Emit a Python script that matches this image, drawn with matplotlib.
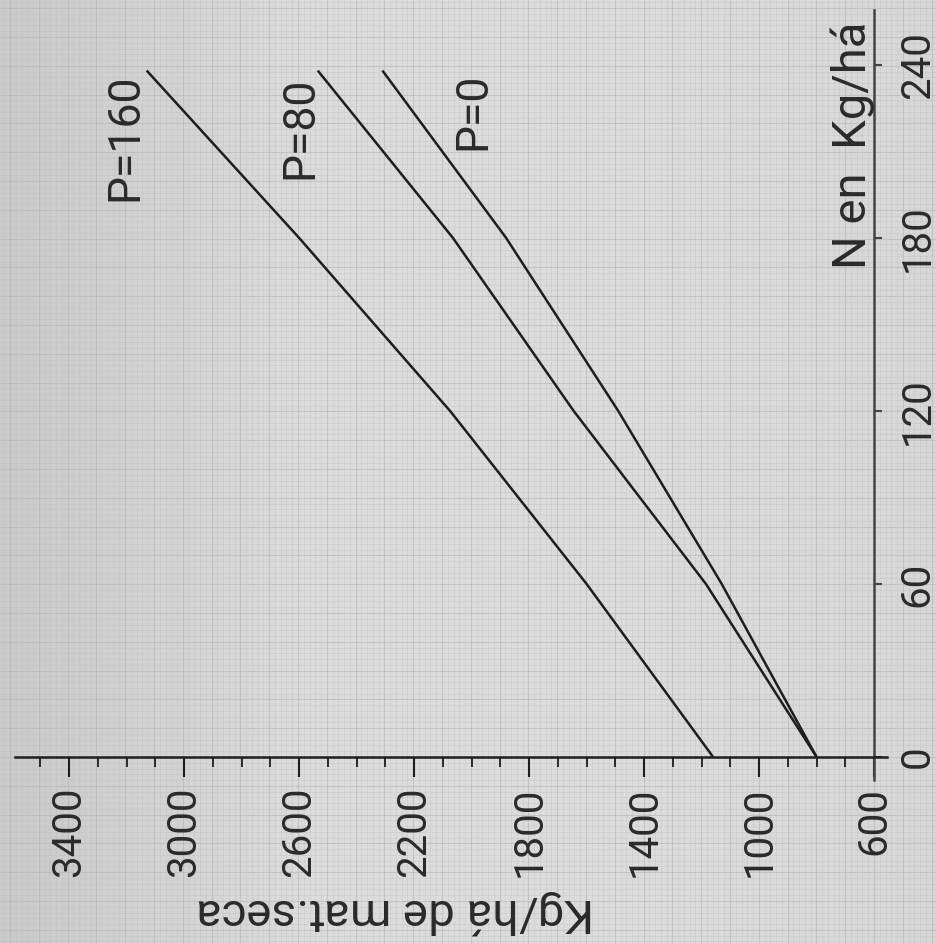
import numpy as np
import matplotlib
matplotlib.use("Agg")
import matplotlib.pyplot as plt
from matplotlib.collections import LineCollection

plt.rcParams['font.family'] = ['Roboto', 'DejaVu Sans']

# ---- data ----
nitrogen = [0, 60, 120, 180, 238]            # N en Kg/há
yield_p0 = [800, 1130, 1490, 1880, 2310]     # Kg/há de mat. seca, P=0
yield_p80 = [800, 1185, 1645, 2065, 2535]    # P=80
yield_p160 = [1160, 1600, 2075, 2600, 3130]  # P=160
series_labels = ['P=0', 'P=80', 'P=160']
kg_major = list(range(600, 3401, 400))
kg_minor = list(range(700, 3501, 100))
n_ticks = [0, 60, 120, 180, 240]

W, H = 937, 943
fig = plt.figure(figsize=(W / 100, H / 100), dpi=100)

# ---- paper background (graph paper look) ----
bg = fig.add_axes([0, 0, 1, 1], zorder=0)
bg.set_xlim(0, W)
bg.set_ylim(H, 0)
bg.axis('off')
xs = np.linspace(0, 1, 256)
tone = 0.79 + 0.07 * np.clip(xs * 3, 0, 1) - 0.02 * np.clip((xs - 0.7) * 3, 0, 1)
grad = np.tile(tone, (16, 1))
bg.imshow(grad, cmap='gray', vmin=0, vmax=1, extent=[0, W, H, 0], aspect='auto')
step = 5.76
segs_minor, segs_major = [], []
k0 = -int(874 / step) - 1
for k in range(k0, int((W - 874) / step) + 2):
    x = 874 + k * step
    (segs_major if k % 5 == 0 else segs_minor).append([(x, 0), (x, H)])
for k in range(-int((H - 757) / step) - 1, int(757 / step) + 2):
    y = 757 - k * step
    (segs_major if k % 5 == 0 else segs_minor).append([(0, y), (W, y)])
bg.add_collection(LineCollection(segs_minor, colors='#bdbdbd', linewidths=0.5, alpha=0.45))
bg.add_collection(LineCollection(segs_major, colors='#b0b0b0', linewidths=0.8, alpha=0.5))

# ---- main chart (rotated: kg horizontal inverted, N vertical) ----
ax = fig.add_axes([15 / W, 1 - 780 / H, (887 - 15) / W, (780 - 10) / H], zorder=1)
ax.patch.set_alpha(0)
ax.set_xlim(3588, 555)
ax.set_ylim(-8, 259)

ink = '#1e1e1e'
txt = '#2a2a2a'
for vals in (yield_p0, yield_p80, yield_p160):
    ax.plot(vals, nitrogen, color=ink, lw=1.8, solid_capstyle='butt')

for sp in ('top', 'left'):
    ax.spines[sp].set_visible(False)
ax.spines['bottom'].set_position(('data', 0))
ax.spines['right'].set_position(('data', 600))
ax.spines['bottom'].set_linewidth(1.8)
ax.spines['bottom'].set_color(ink)
ax.spines['right'].set_linewidth(1.8)
ax.spines['right'].set_color('#444444')

ax.xaxis.set_ticks_position('bottom')
ax.set_xticks(kg_major)
ax.set_xticks(kg_minor, minor=True)
ax.set_xticklabels([str(v) for v in kg_major])
ax.tick_params(axis='x', which='major', length=14.5, width=1.5, direction='out',
               pad=7, labelsize=29, labelrotation=90, colors=ink, labelcolor=txt)
ax.tick_params(axis='x', which='minor', length=7, width=1.3, direction='out', colors=ink)

ax.yaxis.tick_right()
ax.set_yticks(n_ticks)
ax.set_yticklabels([str(v) for v in n_ticks])
ax.tick_params(axis='y', which='major', length=6, width=1.5, direction='out',
               pad=11, labelsize=29, labelrotation=90, colors='#444444', labelcolor=txt)
for lab in ax.get_yticklabels():
    lab.set_va('center')
    lab.set_ha('left')

# series labels
ax.text(1995, 224, series_labels[0], rotation=90, ha='center', va='center', fontsize=32, color=txt)
ax.text(2597, 218, series_labels[1], rotation=90, ha='center', va='center', fontsize=32, color=txt)
ax.text(3205, 215, series_labels[2], rotation=90, ha='center', va='center', fontsize=32, color=txt)

# axis titles
fig.text(395 / W, 1 - 912 / H, 'Kg/há de mat.seca', rotation=180, ha='center', va='center',
         fontsize=34, color=txt)
fig.text(853 / W, 1 - 145 / H, 'N en  Kg/há', rotation=90, ha='center', va='center',
         fontsize=34, color=txt)

fig.savefig('out.png', dpi=100)
